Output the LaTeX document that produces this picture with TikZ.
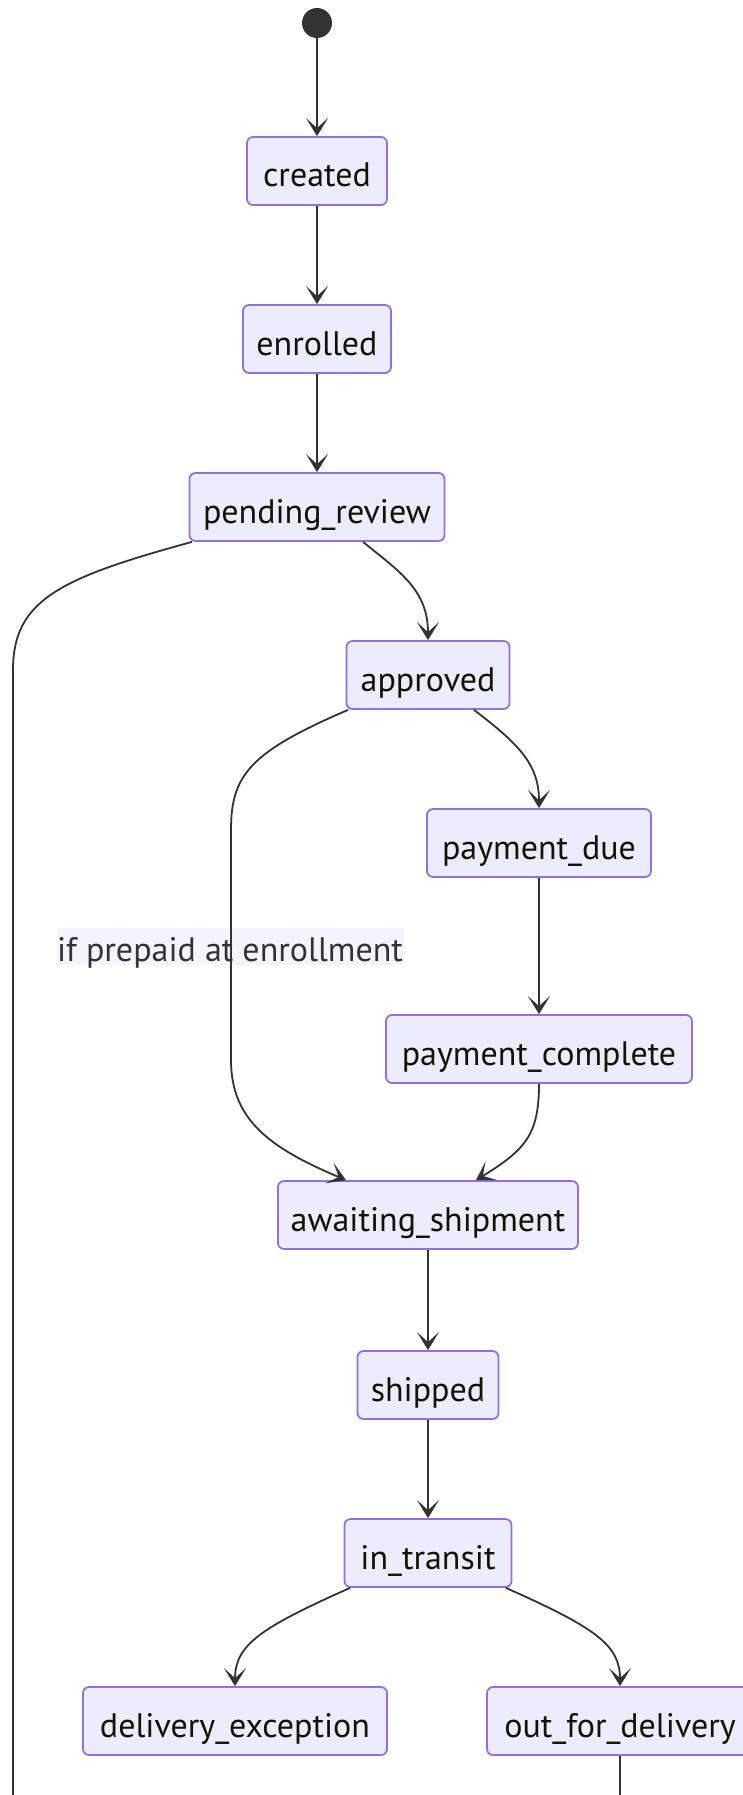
\documentclass[tikz,border=0pt]{standalone}
\usepackage{fontspec}
\setmainfont{PT Sans}
\usetikzlibrary{arrows.meta,calc}
\definecolor{boxfill}{HTML}{ECECFF}
\definecolor{boxdraw}{HTML}{9370DB}
\definecolor{edgecol}{HTML}{333333}
\definecolor{txtcol}{HTML}{131300}
\definecolor{lblbg}{HTML}{F4F4FC}
\tikzset{
  statebox/.style={rectangle, rounded corners=6pt, draw=boxdraw, line width=1.8pt,
    fill=boxfill, minimum height=68pt, inner sep=0pt, text=txtcol,
    text height=40pt, text depth=8pt,
    font=\fontsize{34}{40}\selectfont},
  startdot/.style={circle, fill=edgecol, minimum size=30pt, inner sep=0pt},
  edge/.style={draw=edgecol, line width=1.8pt,
    -{Stealth[length=18pt,width=22pt,inset=10pt]}},
  plainedge/.style={draw=edgecol, line width=1.8pt},
  edgelabel/.style={fill=lblbg, text=edgecol, inner sep=0pt, minimum height=37pt,
    text height=34pt, text depth=3pt,
    minimum width=347pt, font=\fontsize{34}{40}\selectfont}
}
\begin{document}
\begin{tikzpicture}[x=1pt,y=-1pt]
\useasboundingbox (0,0) rectangle (743,1795);
\clip (0,0) rectangle (743,1795);
\fill[white] (0,0) rectangle (743,1795);

\node[startdot] (start) at (317,23) {};
\node[statebox, minimum width=140pt] (created) at (317,171) {created};
\node[statebox, minimum width=148pt] (enrolled) at (317,339) {enrolled};
\node[statebox, minimum width=255pt] (pending) at (317,507) {pending\_review};
\node[statebox, minimum width=163pt] (approved) at (428,675) {approved};
\node[statebox, minimum width=224pt] (due) at (539,843) {payment\_due};
\node[statebox, minimum width=306pt] (complete) at (539,1049) {payment\_complete};
\node[statebox, minimum width=300pt] (awaiting) at (428,1215) {awaiting\_shipment};
\node[statebox, minimum width=141pt] (shipped) at (428,1385) {shipped};
\node[statebox, minimum width=167pt] (transit) at (428,1553) {in\_transit};
\node[statebox, minimum width=304pt] (exception) at (235,1721) {delivery\_exception};
\node[statebox, minimum width=266pt] (outdel) at (620,1721) {out\_for\_delivery};

\node[edgelabel] (lbl) at (230,946) {if prepaid at enrollment};

\coordinate (leftend) at (13,1800);
\coordinate (outend) at (620,1800);

\draw[edge] (start) -- (created);
\draw[edge] (created) -- (enrolled);
\draw[edge] (enrolled) -- (pending);

\draw[edge] ([xshift=46pt]pending.south) .. controls (400,572) and (428,590) .. (approved.north);
\draw[plainedge] ([xshift=-125pt]pending.south) .. controls (60,578) and (13,600) .. (13,670) -- (leftend);

\draw[edge] ([xshift=-80pt]approved.south) .. controls (250,752) and (231,775) .. (231,830)
  -- (231,1060) .. controls (231,1120) and (270,1148) .. ([xshift=-82pt]awaiting.north);
\draw[edge] ([xshift=46pt]approved.south) .. controls (520,745) and (539,765) .. (due.north);
\draw[edge] (due) -- (complete);
\draw[edge] (complete.south) .. controls (539,1135) and (525,1150) .. ([xshift=48pt]awaiting.north);

\draw[edge] (awaiting) -- (shipped);
\draw[edge] (shipped) -- (transit);

\draw[edge] ([xshift=-78pt]transit.south) .. controls (260,1628) and (235,1645) .. (exception.north);
\draw[edge] ([xshift=78pt]transit.south) .. controls (596,1628) and (620,1645) .. (outdel.north);
\draw[plainedge] (outdel.south) -- (outend);
\end{tikzpicture}
\end{document}
